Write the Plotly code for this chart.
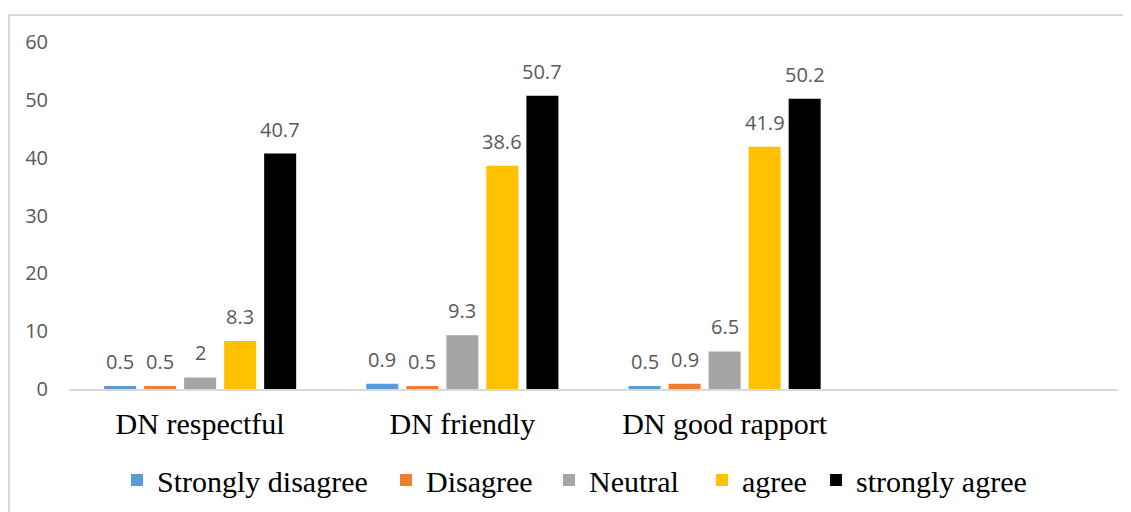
import plotly.graph_objects as go

categories = ["DN respectful", "DN friendly", "DN good rapport"]
series_names = ["Strongly disagree", "Disagree", "Neutral", "agree", "strongly agree"]
strongly_disagree = [0.5, 0.9, 0.5]
disagree = [0.5, 0.5, 0.9]
neutral = [2, 9.3, 6.5]
agree = [8.3, 38.6, 41.9]
strongly_agree = [40.7, 50.7, 50.2]
y_ticks = [0, 10, 20, 30, 40, 50, 60]

series_values = [strongly_disagree, disagree, neutral, agree, strongly_agree]
colors = ["#5B9BD5", "#ED7D31", "#A5A5A5", "#FFC000", "#000000"]

BARGAP = 0.237
n_series = len(series_names)
slot = (1 - BARGAP) / n_series
xpos = list(range(len(categories)))

# page body has an 8px margin, so the figure is drawn at (8, 8)
OFF = 8
W, H = 1131 - OFF, 512 - OFF
L, T = 69 - OFF, 42 - OFF
R = W - (1118 - OFF)
B = H - (389 - OFF)
pw = W - L - R
ph = H - T - B

# pixel left edges (in figure coords) of each legend entry
legend_left_px = [109, 378, 541, 694, 808]
legend_names = ["legend", "legend2", "legend3", "legend4", "legend5"]

fig = go.Figure()
for name, vals, col, lg in zip(series_names, series_values, colors, legend_names):
    fig.add_trace(go.Bar(
        x=xpos, y=vals, name=name, legend=lg,
        marker=dict(color=col, line=dict(width=0)),
    ))

annotations = []
for j, vals in enumerate(series_values):
    off = (j - (n_series - 1) / 2) * slot
    for i, v in enumerate(vals):
        annotations.append(dict(
            x=i + off, y=v, xref="x", yref="y",
            text=f"{v:g}", showarrow=False,
            yanchor="bottom", yshift=9,
            font=dict(family="Open Sans", size=20, color="#595959"),
        ))

legend_layouts = {}
for lg, px in zip(legend_names, legend_left_px):
    legend_layouts[lg] = dict(
        orientation="h", x=(px - L) / pw, xanchor="left",
        y=(T + ph - (480 - OFF)) / ph, yanchor="middle",
        font=dict(family="Liberation Serif", size=30, color="#000000"),
        bgcolor="rgba(0,0,0,0)",
    )

fig.update_layout(
    width=W, height=H,
    margin=dict(l=L, r=R, t=T, b=B, autoexpand=False),
    paper_bgcolor="white", plot_bgcolor="white",
    barmode="group", bargap=BARGAP, bargroupgap=0.2,
    showlegend=True,
    annotations=annotations,
    shapes=[dict(
        type="rect", xref="paper", yref="paper",
        x0=(1 - L) / pw, x1=(W + 10 - L) / pw,
        y0=(T + ph - (H + 20)) / ph, y1=(T + ph - 7) / ph,
        line=dict(color="#D9D9D9", width=2), fillcolor="rgba(0,0,0,0)", layer="below",
    )],
    **legend_layouts,
)
fig.update_xaxes(
    range=[-0.5, 3.5], tickmode="array", tickvals=xpos, ticktext=categories,
    showline=True, linecolor="#D9D9D9", linewidth=2, showgrid=False, zeroline=False,
    ticks="", tickfont=dict(family="Liberation Serif", size=30, color="#000000"),
    ticklabelstandoff=7,
)
fig.update_yaxes(
    range=[0, 60], tickmode="array", tickvals=y_ticks,
    showline=False, showgrid=False, zeroline=False, ticks="",
    tickfont=dict(family="Open Sans", size=20, color="#595959"),
    ticklabelstandoff=20,
)

fig.write_html("out.html")
